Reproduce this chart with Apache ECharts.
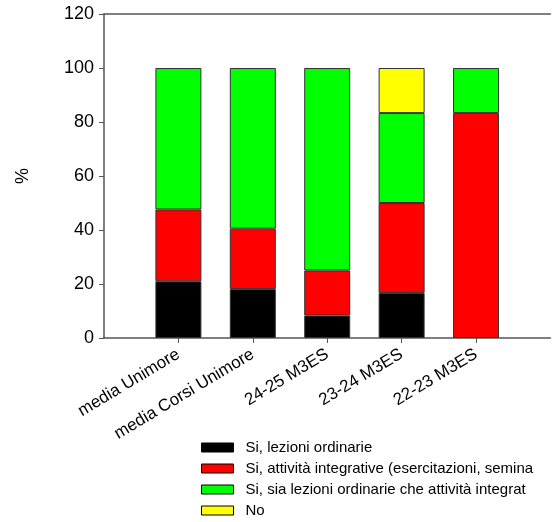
<!DOCTYPE html>
<html>
<head>
<meta charset="utf-8">
<script src="https://cdn.jsdelivr.net/npm/echarts@6/dist/echarts.min.js"></script>
<style>html,body{margin:0;padding:0;background:#fff}#c{width:553px;height:522px}</style>
</head>
<body>
<div id="c"></div>
<script>
const categories = ['media Unimore', 'media Corsi Unimore', '24-25 M3ES', '23-24 M3ES', '22-23 M3ES'];
const seriesNames = ['Si, lezioni ordinarie', 'Si, attività integrative (esercitazioni, semina', 'Si, sia lezioni ordinarie che attività integrat', 'No'];
const lezioni = [21.0, 18.1, 8.3, 16.7, 0];
const integrative = [26.6, 22.4, 16.7, 33.3, 83.3];
const entrambe = [52.4, 59.5, 75.0, 33.3, 16.7];
const no = [0, 0, 0, 16.7, 0];
const yTicks = [0, 20, 40, 60, 80, 100, 120];
const colors = ['#000000', '#ff0000', '#00ff00', '#ffff00'];

const pad = arr => [null].concat(arr.map(x => x === 0 ? null : x), [null]);
const cats = [''].concat(categories, ['']);
const values = [lezioni, integrative, entrambe, no];
const font = 'Liberation Sans, Arial, sans-serif';

const chart = echarts.init(document.getElementById('c'));
chart.setOption({
  animation: false,
  grid: { left: 104, top: 14, right: -1, bottom: 184 },
  legend: {
    orient: 'vertical', left: 201, top: 440, height: 82, itemWidth: 32, itemHeight: 9, itemGap: 6,
    padding: 0,
    icon: 'rect',
    itemStyle: { borderColor: '#000', borderWidth: 1 },
    textStyle: { fontFamily: font, fontSize: 15, color: '#000', padding: [0, 0, 0, 7] },
    data: seriesNames
  },
  xAxis: [{
    type: 'category', data: cats, boundaryGap: false,
    axisLine: { lineStyle: { color: '#555', width: 1.5 } },
    axisTick: { length: 5, interval: (i) => i > 0 && i < cats.length - 1, lineStyle: { color: '#555' } },
    axisLabel: { rotate: 31, fontFamily: font, fontSize: 17, color: '#000', margin: 15, interval: 0 },
    splitLine: { show: false }
  }, {
    type: 'category', data: cats, boundaryGap: false, position: 'top',
    axisLine: { lineStyle: { color: '#555', width: 1.5 } },
    axisTick: { show: false }, axisLabel: { show: false }
  }],
  yAxis: {
    type: 'value', min: 0, max: 120, interval: 20,
    name: '%', nameLocation: 'middle', nameGap: 72, nameRotate: 90,
    nameTextStyle: { fontFamily: font, fontSize: 18, color: '#000' },
    axisLine: { show: true, lineStyle: { color: '#555', width: 1.5 } },
    axisTick: { show: true, length: 5, lineStyle: { color: '#555' } },
    axisLabel: { fontFamily: font, fontSize: 18, color: '#000', margin: 10,
      formatter: v => yTicks.includes(v) ? String(v) : '' },
    splitLine: { show: false }
  },
  series: values.map((v, i) => ({
    name: seriesNames[i], type: 'bar', stack: 'tot', data: pad(v), barWidth: 46,
    itemStyle: { color: colors[i], borderColor: '#333', borderWidth: 1 }
  }))
});
</script>
</body>
</html>
